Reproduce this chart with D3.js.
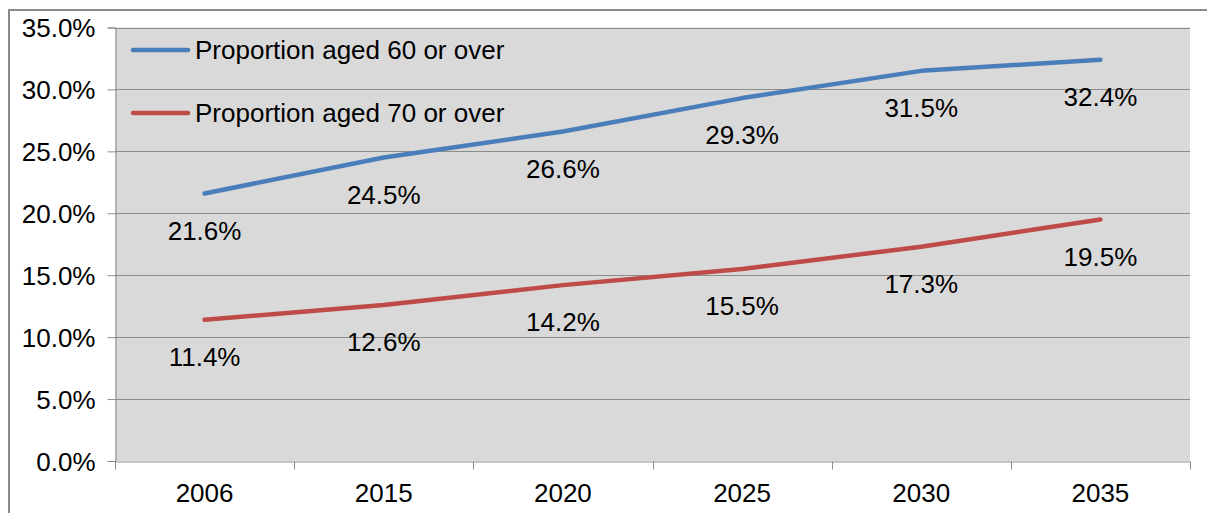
<!DOCTYPE html>
<html>
<head>
<meta charset="utf-8">
<script src="https://cdn.jsdelivr.net/npm/d3@7"></script>
<style>
	body { margin: 0; background: #ffffff; }
	text { font-family: "Liberation Sans", Arial, sans-serif; fill: #000000; }
</style>
</head>
<body>
<script>
// chart data
var years = ["2006", "2015", "2020", "2025", "2030", "2035"];
var aged60 = [21.6, 24.5, 26.6, 29.3, 31.5, 32.4];
var aged70 = [11.4, 12.6, 14.2, 15.5, 17.3, 19.5];
var seriesNames = ["Proportion aged 60 or over", "Proportion aged 70 or over"];
var yTicks = [0, 5, 10, 15, 20, 25, 30, 35];

window.onload = function(){
	var w = 1207, h = 513;
	var plot = {left: 115, right: 1190, top: 27.5, bottom: 461};

	var svg = d3.select("body")
		.append("svg")
		.attr("width", w)
		.attr("height", h);

	// outer chart frame
	svg.append("rect")
		.attr("x", 9)
		.attr("y", 10)
		.attr("width", 1210)
		.attr("height", 520)
		.style("fill", "none")
		.style("stroke", "#8a8a8a")
		.style("stroke-width", 2);

	var x = d3.scaleBand()
		.domain(years)
		.range([plot.left, plot.right]);

	var y = d3.scaleLinear()
		.domain([0, 35])
		.range([plot.bottom, plot.top]);

	// plot background
	svg.append("rect")
		.attr("x", plot.left)
		.attr("y", plot.top)
		.attr("width", plot.right - plot.left)
		.attr("height", plot.bottom - plot.top)
		.style("fill", "#d9d9d9");

	// gridlines
	svg.selectAll(".grid")
		.data(yTicks.slice(1))
		.enter()
		.append("line")
		.attr("class", "grid")
		.attr("x1", plot.left)
		.attr("x2", plot.right)
		.attr("y1", function(d){ return Math.round(y(d)) + 0.5; })
		.attr("y2", function(d){ return Math.round(y(d)) + 0.5; })
		.style("stroke", "#8c8c8c")
		.style("stroke-width", 1);

	// y axis
	var yAxis = svg.append("g")
		.attr("transform", "translate(" + (plot.left + 0.5) + ",0)")
		.call(d3.axisLeft(y)
			.tickValues(yTicks)
			.tickSize(8)
			.tickPadding(12)
			.tickFormat(function(d){ return d.toFixed(1) + "%"; }));

	// x axis with ticks at category boundaries
	var xAxis = svg.append("g")
		.attr("transform", "translate(0," + (plot.bottom + 0.5) + ")")
		.call(d3.axisBottom(x).tickSize(0).tickPadding(22));

	var bounds = years.map(function(d){ return x(d); }).concat([plot.right]);
	xAxis.selectAll(".bound")
		.data(bounds)
		.enter()
		.append("line")
		.attr("class", "bound")
		.attr("x1", function(d){ return Math.round(d) + 0.5; })
		.attr("x2", function(d){ return Math.round(d) + 0.5; })
		.attr("y1", 0)
		.attr("y2", 8)
		.style("stroke", "#8c8c8c");

	[yAxis, xAxis].forEach(function(g){
		g.select(".domain").style("stroke", "#8c8c8c");
		g.selectAll(".tick line").style("stroke", "#8c8c8c");
		g.selectAll("text")
			.style("font-size", "26px")
			.style("font-family", "Liberation Sans, Arial, sans-serif")
			.attr("fill", "#000");
	});
	yAxis.selectAll("text").attr("dy", "0.36em");
	xAxis.selectAll("text").attr("dy", "0.71em");

	var series = [
		{name: seriesNames[0], values: aged60, color: "#4a7ebb"},
		{name: seriesNames[1], values: aged70, color: "#be4b48"}
	];

	var line = d3.line()
		.x(function(d, i){ return x(years[i]) + x.bandwidth() / 2; })
		.y(function(d){ return y(d); });

	series.forEach(function(s){
		svg.append("path")
			.datum(s.values)
			.attr("d", line)
			.style("fill", "none")
			.style("stroke", s.color)
			.style("stroke-width", 4.5)
			.style("stroke-linecap", "round")
			.style("stroke-linejoin", "round");

		// data labels below the points
		svg.selectAll(null)
			.data(s.values)
			.enter()
			.append("text")
			.attr("x", function(d, i){ return x(years[i]) + x.bandwidth() / 2; })
			.attr("y", function(d){ return y(d) + 37; })
			.attr("dy", "0.36em")
			.attr("text-anchor", "middle")
			.style("font-size", "26px")
			.text(function(d){ return d.toFixed(1) + "%"; });
	});

	// legend
	var legend = svg.selectAll(".legend")
		.data(series)
		.enter()
		.append("g")
		.attr("class", "legend")
		.attr("transform", function(d, i){ return "translate(133," + (50 + i * 63) + ")"; });

	legend.append("line")
		.attr("x1", 0)
		.attr("x2", 55)
		.style("stroke", function(d){ return d.color; })
		.style("stroke-width", 4.5)
		.style("stroke-linecap", "round");

	legend.append("text")
		.attr("x", 62)
		.attr("dy", "0.36em")
		.style("font-size", "26px")
		.text(function(d){ return d.name; });
};
</script>
</body>
</html>
